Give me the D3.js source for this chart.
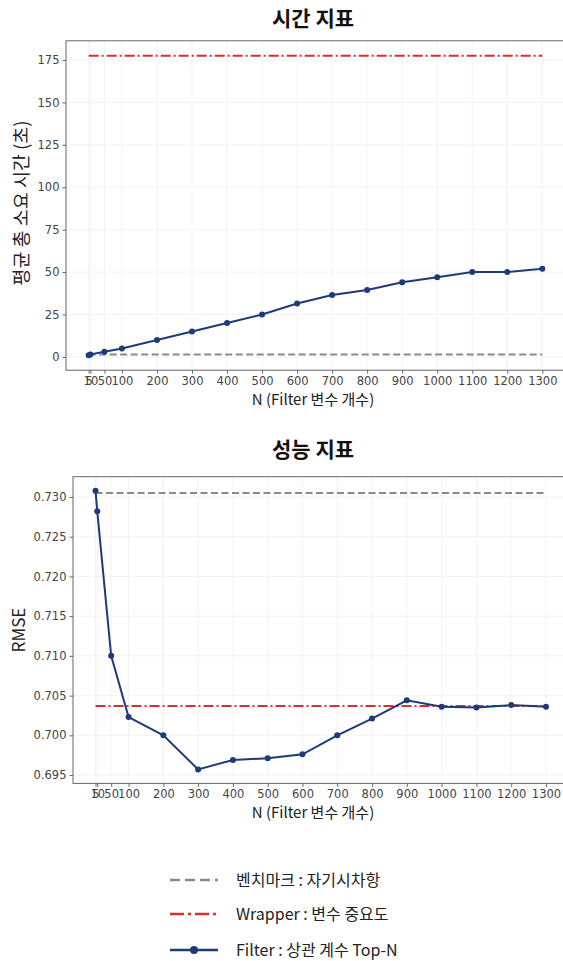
<!DOCTYPE html>
<html>
<head>
<meta charset="utf-8">
<script src="https://cdn.jsdelivr.net/npm/d3@7"></script>
<style>
  body { margin: 0; background: #fff; }
  svg { display: block; }
  .kr { font-family: "Noto Sans CJK KR", "Noto Sans", sans-serif; fill: #222; }
</style>
</head>
<body>
<div id="chart"></div>
<script>
// data
var nValues = [5, 10, 50, 100, 200, 300, 400, 500, 600, 700, 800, 900, 1000, 1100, 1200, 1300];
var xTicks = [5, 10, 50, 100, 200, 300, 400, 500, 600, 700, 800, 900, 1000, 1100, 1200, 1300];

var timeFilter = [1.0, 1.5, 3.0, 5.0, 10.0, 15.0, 20.0, 25.0, 31.5, 36.5, 39.5, 44.0, 47.0, 50.0, 50.0, 52.0];
var timeBenchmark = 1.5;
var timeWrapper = 177.5;
var timeTicks = [0, 25, 50, 75, 100, 125, 150, 175];

var rmseFilter = [0.7308, 0.7282, 0.7100, 0.7023, 0.7000, 0.6957, 0.6969, 0.6971, 0.6976, 0.7000, 0.7021, 0.7044, 0.7036, 0.7035, 0.7038, 0.7036];
var rmseBenchmark = 0.7305;
var rmseWrapper = 0.7037;
var rmseTicks = [0.695, 0.700, 0.705, 0.710, 0.715, 0.720, 0.725, 0.730];

var legendLabels = ["벤치마크 : 자기시차항", "Wrapper : 변수 중요도", "Filter : 상관 계수 Top-N"];

var navy = "#1e3a78", red = "#d7302f", gray = "#8a8a8a";

var W = 563, H = 961;
var svg = d3.select("#chart").append("svg").attr("width", W).attr("height", H);

// matplotlib style 5% margins
function padded(lo, hi) {
    var m = (hi - lo) * 0.05;
    return [lo - m, hi + m];
}

function panel(opt) {
    var x = d3.scaleLinear().domain(padded(d3.min(nValues), d3.max(nValues))).range([opt.left, opt.right]);
    var all = opt.values.concat([opt.bench, opt.wrap]);
    var y = d3.scaleLinear().domain(padded(d3.min(all), d3.max(all))).range([opt.bottom, opt.top]);

    var g = svg.append("g");

    // faint grid
    g.selectAll(".vg").data(xTicks).enter().append("line")
        .attr("x1", function(d){ return x(d); }).attr("x2", function(d){ return x(d); })
        .attr("y1", opt.top).attr("y2", opt.bottom)
        .style("stroke", "#f3f3f3").style("stroke-width", 1);
    g.selectAll(".hg").data(opt.ticks).enter().append("line")
        .attr("x1", opt.left).attr("x2", opt.right)
        .attr("y1", function(d){ return y(d); }).attr("y2", function(d){ return y(d); })
        .style("stroke", "#f3f3f3").style("stroke-width", 1);

    // frame
    g.append("rect")
        .attr("x", opt.left).attr("y", opt.top)
        .attr("width", opt.right - opt.left).attr("height", opt.bottom - opt.top)
        .style("fill", "none").style("stroke", "#666").style("stroke-width", 1);

    var xa = g.append("g").attr("transform", "translate(0," + opt.bottom + ")")
        .call(d3.axisBottom(x).tickValues(xTicks).tickSize(3.5).tickPadding(3).tickFormat(d3.format("d")));
    var ya = g.append("g").attr("transform", "translate(" + opt.left + ",0)")
        .call(d3.axisLeft(y).tickValues(opt.ticks).tickSize(3.5).tickPadding(3).tickFormat(opt.fmt));
    [xa, ya].forEach(function(a){
        a.select(".domain").remove();
        a.selectAll(".tick line").style("stroke", "#666");
        a.selectAll(".tick text")
            .style("font-family", "'DejaVu Sans', sans-serif")
            .style("font-size", "11.5px")
            .style("fill", "#444");
    });

    // reference lines
    g.append("line")
        .attr("x1", x(nValues[0])).attr("x2", x(nValues[nValues.length-1]))
        .attr("y1", y(opt.bench)).attr("y2", y(opt.bench))
        .style("stroke", gray).style("stroke-width", 2).style("stroke-dasharray", "7,3.5");
    g.append("line")
        .attr("x1", x(nValues[0])).attr("x2", x(nValues[nValues.length-1]))
        .attr("y1", y(opt.wrap)).attr("y2", y(opt.wrap))
        .style("stroke", red).style("stroke-width", 2).style("stroke-dasharray", "10,3,2,3");

    // filter series
    var line = d3.line().x(function(d, i){ return x(nValues[i]); }).y(function(d){ return y(d); });
    g.append("path").datum(opt.values).attr("d", line)
        .style("fill", "none").style("stroke", navy).style("stroke-width", 2);
    g.selectAll(".pt").data(opt.values).enter().append("circle")
        .attr("cx", function(d, i){ return x(nValues[i]); })
        .attr("cy", function(d){ return y(d); })
        .attr("r", 3).style("fill", navy);

    // titles
    g.append("text").attr("class", "kr")
        .attr("x", 313).attr("y", opt.titleY)
        .attr("text-anchor", "middle").style("font-size", "21px").style("font-weight", "bold")
        .style("fill", "#111")
        .text(opt.title);
    g.append("text").attr("class", "kr")
        .attr("x", 313).attr("y", opt.bottom + 35)
        .attr("text-anchor", "middle").style("font-size", "15px")
        .text("N (Filter 변수 개수)");
    g.append("text").attr("class", "kr")
        .attr("transform", "translate(" + opt.ylabelX + "," + opt.ylabelY + ") rotate(-90)")
        .attr("text-anchor", "middle").style("font-size", opt.ylabelSize)
        .text(opt.ylabel);
}

panel({
    left: 66, right: 565, top: 40.8, bottom: 370.2,
    values: timeFilter, bench: timeBenchmark, wrap: timeWrapper,
    ticks: timeTicks, fmt: d3.format("d"),
    title: "시간 지표", titleY: 26,
    ylabel: "평균 총 소요 시간 (초)", ylabelX: 28, ylabelY: 203, ylabelSize: "18.5px"
});

panel({
    left: 73, right: 568.5, top: 476.7, bottom: 783.4,
    values: rmseFilter, bench: rmseBenchmark, wrap: rmseWrapper,
    ticks: rmseTicks, fmt: d3.format(".3f"),
    title: "성능 지표", titleY: 457,
    ylabel: "RMSE", ylabelX: 25, ylabelY: 630, ylabelSize: "17px"
});

// legend
var legendY = [880, 914, 950];
var lg = svg.append("g");
lg.append("line").attr("x1", 170).attr("x2", 218).attr("y1", legendY[0]).attr("y2", legendY[0])
    .style("stroke", gray).style("stroke-width", 2.5).style("stroke-dasharray", "10,5");
lg.append("line").attr("x1", 170).attr("x2", 218).attr("y1", legendY[1]).attr("y2", legendY[1])
    .style("stroke", red).style("stroke-width", 2.5).style("stroke-dasharray", "14,4,3,4");
lg.append("line").attr("x1", 170).attr("x2", 218).attr("y1", legendY[2]).attr("y2", legendY[2])
    .style("stroke", navy).style("stroke-width", 2.5);
lg.append("circle").attr("cx", 194).attr("cy", legendY[2]).attr("r", 4).style("fill", navy);
lg.selectAll(".lt").data(legendLabels).enter().append("text").attr("class", "kr")
    .attr("x", 236).attr("y", function(d, i){ return legendY[i]; })
    .attr("dy", "0.35em").style("font-size", "16px")
    .text(function(d){ return d; });
</script>
</body>
</html>
